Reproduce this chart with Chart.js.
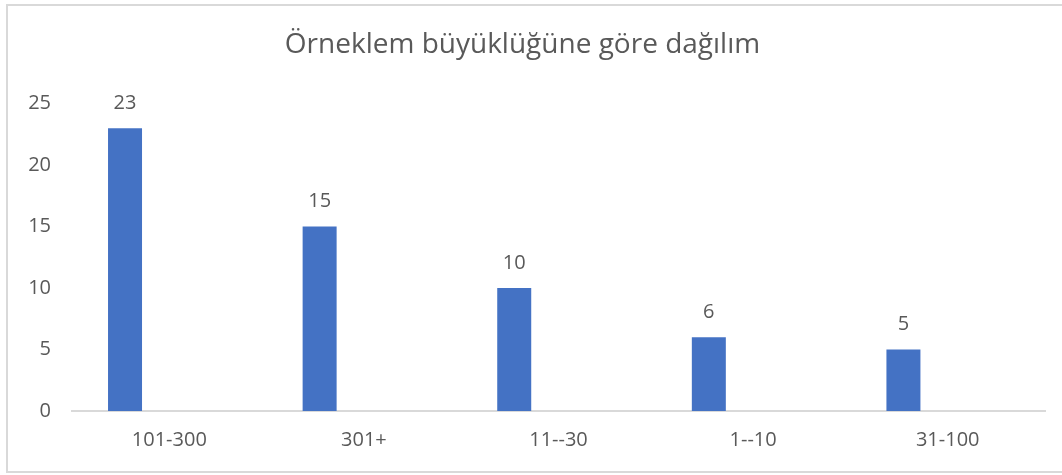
<!DOCTYPE html>
<html lang="tr">
  <head>
    <meta charset="utf-8" />
    <title>Örneklem büyüklüğüne göre dağılım</title>
    <style>
      * {
        margin: 0;
        padding: 0;
      }
      body {
        background: white;
      }
      .chartBox {
        width: 1062px;
        height: 475px;
      }
    </style>
  </head>
  <body>
    <div class="chartBox">
      <canvas id="myChart"></canvas>
    </div>

    <script src="https://cdn.jsdelivr.net/npm/chart.js@4/dist/chart.umd.min.js"></script>

    <script>
      // data
      const categories = ["101-300", "301+", "11--30", "1--10", "31-100"];
      const counts = [23, 15, 10, 6, 5];
      // the original sheet has a second, empty series next to the bars
      const emptySeries = [null, null, null, null, null];
      const yTicks = [0, 5, 10, 15, 20, 25];

      const textColor = "#595959";
      const fontFamily = "'Open Sans', sans-serif";

      // frame around the chart (left, top and bottom edges visible)
      const frame = {
        id: "frame",
        beforeDraw(chart) {
          const { ctx } = chart;
          ctx.save();
          ctx.strokeStyle = "#d9d9d9";
          ctx.lineWidth = 2;
          ctx.strokeRect(7, 5, 1080, 467);
          ctx.restore();
        },
      };

      // value labels above bars
      const valueLabels = {
        id: "valueLabels",
        afterDatasetsDraw(chart) {
          const { ctx, data } = chart;
          ctx.save();
          ctx.font = "20px " + fontFamily;
          ctx.fillStyle = textColor;
          ctx.textAlign = "center";
          ctx.textBaseline = "middle";
          chart.getDatasetMeta(0).data.forEach((bar, index) => {
            ctx.fillText(data.datasets[0].data[index], bar.x, bar.y - 25);
          });
          ctx.restore();
        },
      };

      const config = {
        type: "bar",
        data: {
          labels: categories,
          datasets: [
            {
              label: "Sayı",
              data: counts,
              backgroundColor: "#4472C4",
              categoryPercentage: 0.91,
              barPercentage: 0.384,
            },
            {
              label: "",
              data: emptySeries,
              backgroundColor: "#ED7D31",
              categoryPercentage: 0.91,
              barPercentage: 0.384,
            },
          ],
        },
        options: {
          responsive: false,
          animation: false,
          layout: {
            padding: { left: 0, right: 17, top: 0, bottom: 0 },
          },
          plugins: {
            legend: { display: false },
            tooltip: { enabled: false },
            title: {
              display: true,
              text: "Örneklem büyüklüğüne göre dağılım",
              color: textColor,
              font: { family: fontFamily, size: 28, weight: "normal" },
              padding: { top: 28, bottom: 42 },
            },
          },
          scales: {
            x: {
              grid: { display: false, drawTicks: false },
              border: { display: true, color: "#d9d9d9", width: 2 },
              ticks: {
                color: textColor,
                font: { family: fontFamily, size: 20 },
                padding: 17,
              },
              afterFit(scale) {
                scale.height = 475 - 411;
              },
            },
            y: {
              min: 0,
              max: 25,
              afterBuildTicks(scale) {
                scale.ticks = yTicks.map((v) => ({ value: v }));
              },
              grid: { display: false, drawTicks: false },
              border: { display: false },
              ticks: {
                color: textColor,
                font: { family: fontFamily, size: 20 },
                padding: 21,
              },
              afterFit(scale) {
                scale.width = 72;
              },
            },
          },
        },
        plugins: [frame, valueLabels],
      };

      const canvas = document.getElementById("myChart");
      canvas.width = 1062;
      canvas.height = 475;
      const myChart = new Chart(canvas, config);
    </script>
  </body>
</html>
